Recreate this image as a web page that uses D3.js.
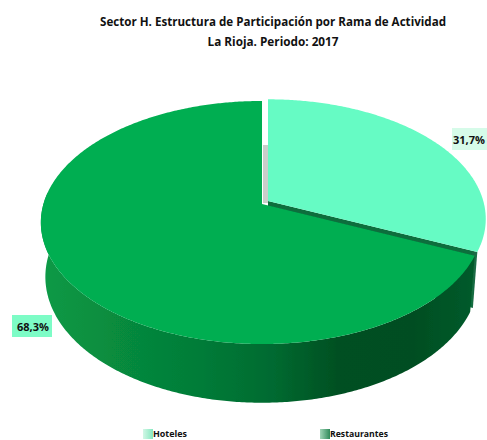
<!DOCTYPE html>
<html><head><meta charset="utf-8">
<script src="https://cdn.jsdelivr.net/npm/d3@7"></script>
<style>html,body{margin:0;padding:0;background:#fff}svg{display:block}text{font-family:"Open Sans",sans-serif;font-weight:700;fill:#111}</style>
</head><body><svg id="c" width="487" height="440"></svg>
<script>
const categories = ["Hoteles", "Restaurantes"];
const values = [31.7, 68.3];
const valueLabels = ["31,7%", "68,3%"];
const titleLines = ["Sector H. Estructura de Participación por Rama de Actividad", "La Rioja. Periodo: 2017"];
const topColors = ["#66fbc4", "#02ae51"];

const svg = d3.select("#c");
const defs = svg.append("defs");
defs.append("filter").attr("id","soft").attr("x","-5%").attr("y","-5%").attr("width","110%").attr("height","110%")
  .append("feGaussianBlur").attr("stdDeviation",0.7);

const sideGrad = defs.append("linearGradient").attr("id","side").attr("gradientUnits","userSpaceOnUse")
  .attr("x1",41).attr("x2",480).attr("y1",0).attr("y2",0);
[[0,"#089a46"],[.16,"#078c3e"],[.36,"#047c38"],[.53,"#026a30"],[.68,"#014f22"],[.85,"#014e22"],[1,"#055c2c"]]
  .forEach(([o,c])=>sideGrad.append("stop").attr("offset",o).attr("stop-color",c));
const hotGrad = defs.append("linearGradient").attr("id","hot").attr("gradientUnits","userSpaceOnUse")
  .attr("x1",262).attr("x2",486).attr("y1",0).attr("y2",0);
[[0,"#0a6e3c"],[.93,"#0a6e3c"],[.95,"#1c6a45"],[1,"#2f9268"]]
  .forEach(([o,c])=>hotGrad.append("stop").attr("offset",o).attr("stop-color",c));
categories.forEach((c,i)=>{
  const g = defs.append("linearGradient").attr("id","sw"+i);
  g.append("stop").attr("offset",0).attr("stop-color",i?"#9fd4b6":"#d2f7e6");
  g.append("stop").attr("offset",1).attr("stop-color",i?"#2f8a5a":"#86e8c0");
});

// Perspective projection of the pie disc
const D = 6.57, F = 1436, G = 780, DEPTH = 62, KB = 0.98;
function proj(theta, L, lower){
  const k = L.k*(lower?KB:1);
  const X = k*Math.sin(theta), Y = -k*Math.cos(theta);
  const dy = lower ? DEPTH*(.87 - .13*Math.cos(theta)) : 0;
  return [L.cx + F*X/(D-Y), L.cy + dy + G*Y/(D-Y)];
}
const line = d3.line().curve(d3.curveLinear);
const arcs = d3.pie().sort(null).value(d=>d)(values);
const STEP = 0.01;
function thetas(a,b){ const t = d3.range(a,b,STEP); t.push(b); return t; }

const layout = [{cx:268,cy:201,k:.985},{cx:262,cy:204,k:1}];
const root = svg.append("g").attr("filter","url(#soft)");

// grey inner wall behind the gap
root.append("path").attr("fill","#c8cfca")
  .attr("d", d3.area().x0(d=>d[0]).x1(d=>d[0]+5).y(d=>d[1])([[263,145],[263,203]]));

// Hoteles cut wall
{
  const L = layout[0], e = arcs[0].endAngle;
  const a0 = proj(e,L,false), a1 = proj(e,L,true);
  root.append("path").attr("fill","url(#hot)")
    .attr("d",line([[L.cx,L.cy],a0,a1,[L.cx,L.cy+50]])+"Z");
}
// Restaurantes side
{
  const a = arcs[1], L = layout[1];
  const ts = thetas(a.startAngle, 3*Math.PI/2+0.1);
  const top = ts.map(t=>proj(t,L,false));
  const bot = ts.map(t=>proj(t,L,true)).reverse();
  root.append("path").attr("fill","url(#side)").attr("d",line(top.concat(bot))+"Z");
}
// Top faces
arcs.forEach((a,i)=>{
  const L = layout[i];
  const pts = [[L.cx,L.cy]].concat(thetas(a.startAngle,a.endAngle).map(t=>proj(t,L,false)));
  root.append("path").attr("fill",topColors[i]).attr("d",line(pts)+"Z");
});

// Title
titleLines.forEach((t,i)=>{
  svg.append("text").attr("x",273).attr("y",i?46:26).attr("text-anchor","middle")
    .attr("font-size",12).attr("textLength",i?131:346).attr("lengthAdjust","spacingAndGlyphs").text(t);
});

// Data labels
const labelBoxes = [{x:452,y:128,w:35,h:22,fill:"#d6fbe9",tx:469},{x:12,y:315,w:40,h:22,fill:"#7dfcc6",tx:33}];
valueLabels.forEach((t,i)=>{
  const b = labelBoxes[i];
  svg.append("rect").attr("x",b.x).attr("y",b.y).attr("width",b.w).attr("height",b.h).attr("fill",b.fill);
  svg.append("text").attr("x",b.tx).attr("y",b.y+15.5).attr("text-anchor","middle")
    .attr("font-size",11).text(t);
});

// Legend
const legendX = [143,320], legendW = [34,58];
categories.forEach((c,i)=>{
  svg.append("rect").attr("x",legendX[i]).attr("y",429).attr("width",10).attr("height",10).attr("fill",`url(#sw${i})`);
  svg.append("text").attr("x",legendX[i]+10).attr("y",437).attr("font-size",9)
    .attr("textLength",legendW[i]).attr("lengthAdjust","spacingAndGlyphs").text(c);
});
</script></body></html>
